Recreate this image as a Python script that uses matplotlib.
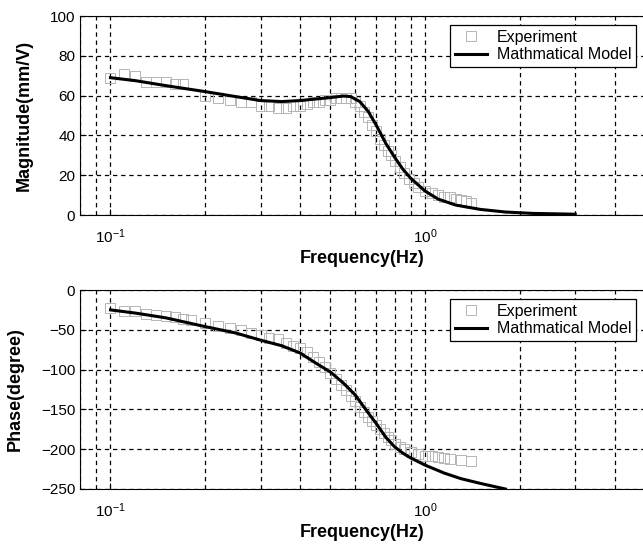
import numpy as np
import matplotlib
matplotlib.use("Agg")
import matplotlib.pyplot as plt
from matplotlib.ticker import LogLocator, NullFormatter

plt.rcParams['font.family'] = ['Liberation Sans', 'DejaVu Sans']
plt.rcParams['mathtext.fontset'] = 'custom'
plt.rcParams['mathtext.rm'] = 'Liberation Sans'
plt.rcParams['mathtext.default'] = 'regular'

# magnitude: experiment (squares) and model (line)
mag_exp_f = [0.1, 0.11, 0.12, 0.13, 0.14, 0.15, 0.16, 0.17, 0.2, 0.22, 0.24, 0.26, 0.28,
             0.3, 0.32, 0.34, 0.36, 0.38, 0.4, 0.42, 0.44, 0.46, 0.48, 0.5, 0.52, 0.54,
             0.56, 0.58, 0.6, 0.62, 0.64, 0.66, 0.68, 0.7, 0.72, 0.74, 0.76, 0.78, 0.8,
             0.83, 0.86, 0.89, 0.92, 0.95, 1.0, 1.05, 1.1, 1.15, 1.2, 1.25, 1.3, 1.35, 1.4]
mag_exp = [69, 71, 70, 67, 67, 67, 66, 66, 60, 59, 58, 57, 57,
           55, 55, 54, 54, 55, 55, 56, 57, 57, 58, 58, 59, 59,
           59, 59, 57, 55, 52, 49, 45, 42, 38, 35, 32, 30, 27,
           24, 21, 18, 16, 14, 12, 11, 10, 9, 9, 8, 7.5, 7, 6]
mag_mod_f = [0.1, 0.12, 0.15, 0.2, 0.25, 0.3, 0.35, 0.4, 0.45, 0.5, 0.55, 0.58, 0.62,
             0.66, 0.7, 0.75, 0.8, 0.85, 0.9, 1.0, 1.1, 1.25, 1.5, 1.8, 2.2, 3.0]
mag_mod = [69, 67.5, 65, 62, 59.5, 57.5, 57, 57.5, 58.3, 59, 59.8, 59.5, 57,
           52, 45, 36, 29, 23, 18.5, 12, 8, 5, 2.8, 1.5, 0.8, 0.4]

# phase: experiment (squares) and model (line)
ph_exp_f = [0.1, 0.11, 0.12, 0.13, 0.14, 0.15, 0.16, 0.17, 0.18, 0.2, 0.22, 0.24, 0.26,
            0.28, 0.3, 0.32, 0.34, 0.36, 0.38, 0.4, 0.42, 0.44, 0.46, 0.48, 0.5, 0.52,
            0.54, 0.56, 0.58, 0.6, 0.62, 0.64, 0.66, 0.68, 0.7, 0.72, 0.74, 0.76, 0.78,
            0.8, 0.83, 0.86, 0.9, 0.95, 1.0, 1.05, 1.1, 1.15, 1.2, 1.3, 1.4]
ph_exp = [-22, -27, -27, -30, -31, -33, -34, -36, -38, -42, -45, -48, -50,
          -54, -57, -60, -62, -66, -70, -73, -78, -84, -90, -97, -104, -112,
          -119, -126, -133, -140, -147, -153, -159, -165, -170, -175, -180, -185, -189,
          -193, -197, -200, -203, -206, -208, -209, -210, -211, -212, -213, -215]
ph_mod_f = [0.1, 0.12, 0.15, 0.2, 0.25, 0.3, 0.35, 0.4, 0.45, 0.5, 0.55, 0.6, 0.65,
            0.7, 0.75, 0.8, 0.85, 0.9, 1.0, 1.15, 1.3, 1.5, 1.8]
ph_mod = [-25, -29, -35, -46, -54, -63, -70, -79, -92, -103, -117, -132, -151,
          -168, -185, -197, -205, -211, -220, -230, -237, -243, -250]

fig = plt.figure(figsize=(6.43, 5.45), dpi=100)
left, width = 80 / 643, 565 / 643
ax1 = fig.add_axes([left, 1 - 215 / 545, width, 199 / 545])
ax2 = fig.add_axes([left, 1 - 489 / 545, width, 199 / 545])

panels = [
    (ax1, mag_exp_f, mag_exp, mag_mod_f, mag_mod, (0, 100), [0, 20, 40, 60, 80, 100], 'Magnitude(mm/V)'),
    (ax2, ph_exp_f, ph_exp, ph_mod_f, ph_mod, (-250, 0), [-250, -200, -150, -100, -50, 0], 'Phase(degree)'),
]

for ax, ef, ev, mf, mv, ylim, yt, ylab in panels:
    ax.plot(ef, ev, 's', mfc='none', mec='#b5b5b5', mew=0.7, ms=6.5, label='Experiment')
    ax.plot(mf, mv, '-', color='black', lw=2.2, label='Mathmatical Model')
    ax.set_xscale('log')
    ax.set_xlim(0.08, 5)
    ax.set_ylim(*ylim)
    ax.set_yticks(yt)
    ax.xaxis.set_major_locator(LogLocator(base=10, numticks=10))
    ax.xaxis.set_minor_locator(LogLocator(base=10, subs=np.arange(2, 10), numticks=10))
    ax.xaxis.set_minor_formatter(NullFormatter())
    ax.grid(True, which='both', axis='x', color='black', ls=(0, (3.5, 3)), lw=0.9)
    ax.grid(True, which='major', axis='y', color='black', ls=(0, (3.5, 3)), lw=0.9)
    ax.tick_params(which='both', direction='in', labelsize=11)
    ax.tick_params(which='major', length=4)
    ax.tick_params(which='minor', length=2.5)
    ax.tick_params(axis='x', which='major', pad=9)
    ax.set_xlabel('Frequency(Hz)', fontsize=13, fontweight='bold', labelpad=3)
    ax.set_ylabel(ylab, fontsize=13, fontweight='bold', labelpad=12)
    leg = ax.legend(loc='upper right', bbox_to_anchor=(0.984, 0.955), borderaxespad=0,
                    fancybox=False, edgecolor='black', framealpha=1, fontsize=11.5,
                    borderpad=0.3, labelspacing=0.15, handlelength=2.0, handletextpad=0.6)
    leg.get_frame().set_linewidth(0.9)

fig.savefig('out.png', dpi=100)
